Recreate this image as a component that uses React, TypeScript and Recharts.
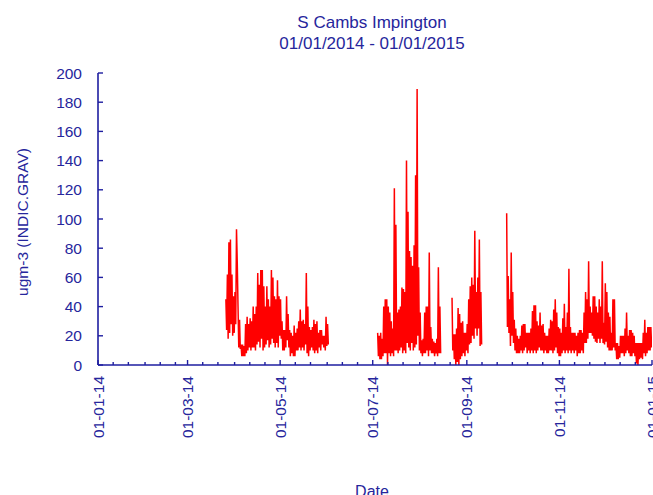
import React from 'react';
import { LineChart, Line, XAxis, YAxis } from 'recharts';

const TITLE = 'S Cambs Impington';
const SUBTITLE = '01/01/2014 - 01/01/2015';
const Y_LABEL = 'ugm-3 (INDIC.GRAV)';
const X_LABEL = 'Date';

const yTicks = [0, 20, 40, 60, 80, 100, 120, 140, 160, 180, 200];
const majorTickDays = [0, 59, 120, 181, 243, 304, 365];
const majorTickLabels = ['01-01-14', '01-03-14', '01-05-14', '01-07-14', '01-09-14', '01-11-14', '01-01-15'];
const monthStartDays = [0, 31, 59, 90, 120, 151, 181, 212, 243, 273, 304, 334, 365];

// daily envelope (max / min); day = days since 01-01-14
const springStart = 84;
const springMax = [45, 62, 84, 86, 62, 47, 50, 93, 40, 31, 14, 14, 13, 28, 33, 28, 32, 30, 40, 35, 40, 63, 55, 65, 65, 54, 40, 54, 45, 40, 65, 60, 47, 45, 58, 47, 45, 30, 24, 24, 47, 35, 24, 22, 20, 27, 22, 25, 30, 38, 30, 31, 28, 63, 40, 26, 24, 26, 31, 28, 30, 22, 24, 24, 20, 20, 33, 28];
const springMin = [24, 18, 22, 28, 20, 22, 28, 70, 12, 11, 6, 6, 6, 8, 10, 12, 10, 12, 12, 10, 14, 16, 12, 18, 10, 12, 14, 17, 12, 14, 18, 15, 12, 15, 12, 20, 18, 10, 10, 12, 17, 12, 6, 8, 6, 6, 10, 10, 12, 10, 12, 10, 14, 8, 6, 10, 12, 10, 8, 10, 8, 12, 10, 14, 12, 10, 13, 14];

const summerStart = 184;
const summerMax = [22, 20, 22, 18, 40, 45, 45, 40, 36, 30, 25, 121, 96, 36, 38, 40, 53, 52, 50, 140, 105, 78, 74, 68, 82, 130, 189, 67, 36, 17, 18, 36, 40, 40, 77, 26, 18, 16, 15, 18, 67, 40];
const summerMin = [6, 4, 4, 6, 8, 8, 0, 8, 6, 8, 6, 10, 10, 8, 10, 12, 8, 10, 8, 15, 12, 10, 15, 10, 12, 14, 20, 10, 8, 6, 8, 8, 10, 6, 10, 8, 8, 6, 8, 6, 8, 8];

const septStart = 233;
const septMax = [46, 21, 21, 25, 39, 35, 29, 30, 22, 22, 28, 45, 54, 60, 55, 92, 50, 60, 86, 50];
const septMin = [10, 4, 0, 2, 0, 4, 6, 8, 6, 10, 8, 14, 15, 20, 18, 25, 20, 25, 13, 14];

const autumnStart = 269;
const autumnMax = [104, 61, 45, 77, 50, 31, 25, 20, 18, 20, 27, 28, 28, 22, 22, 22, 25, 37, 41, 41, 30, 27, 36, 27, 28, 22, 20, 20, 25, 31, 30, 38, 45, 36, 26, 25, 22, 32, 42, 26, 36, 66, 26, 22, 22, 22,
  20, 22, 24, 24, 22, 36, 50, 45, 71, 40, 36, 47, 47, 40, 36, 45, 40, 71, 29, 56, 50, 36, 33, 22, 45, 45, 15, 15, 13, 20, 20, 20, 25, 36, 20, 24, 24, 22, 20, 15, 15, 15, 15, 15, 22, 31, 22, 26, 26, 26];
const autumnMin = [26, 22, 13, 20, 15, 10, 8, 8, 8, 10, 8, 10, 12, 8, 10, 8, 10, 8, 10, 8, 10, 12, 10, 10, 8, 10, 8, 8, 10, 10, 8, 10, 12, 8, 6, 6, 8, 10, 8, 10, 8, 10, 8, 10, 8, 10,
  6, 8, 8, 10, 8, 15, 15, 18, 22, 22, 20, 18, 16, 15, 18, 15, 18, 15, 14, 16, 12, 10, 10, 10, 12, 10, 4, 4, 5, 8, 8, 6, 8, 10, 8, 6, 6, 8, 6, 1, 0, 4, 5, 4, 8, 6, 8, 10, 10, 12];

const TEXT = '#26269c';
const AXIS = '#1e1ea0';
const FONT = '"Liberation Sans", Arial, sans-serif';

type Pt = { t: number; v: number | null };

function buildData(): Pt[] {
  const segs: [number, number[], number[]][] = [
    [springStart, springMax, springMin],
    [summerStart, summerMax, summerMin],
    [septStart, septMax, septMin],
    [autumnStart, autumnMax, autumnMin],
  ];
  const out: Pt[] = [];
  segs.forEach(([start, mx, mn], si) => {
    mx.forEach((m, i) => {
      out.push({ t: start + i + 0.25, v: m });
      out.push({ t: start + i + 0.75, v: mn[i] });
    });
    if (si < segs.length - 1) out.push({ t: start + mx.length + 0.5, v: null });
  });
  return out;
}

const data = buildData();
const allTickDays = monthStartDays.slice(0, 12).flatMap((m) => [m, m + 10, m + 20]).concat([365]);

const XTick = (props: any) => {
  const { x, y, payload } = props;
  const idx = majorTickDays.indexOf(payload.value);
  const major = idx >= 0;
  const ly = y + 11;
  return (
    <g>
      <line x1={x} x2={x} y1={y} y2={y - (major ? 5 : 3)} stroke={AXIS} strokeWidth={1.4} />
      {major && (
        <text x={x} y={ly} transform={`rotate(-90 ${x} ${ly})`} textAnchor="end" dominantBaseline="central"
          fill={TEXT} fontSize={15.5} fontFamily={FONT}>
          {majorTickLabels[idx]}
        </text>
      )}
    </g>
  );
};

const YTick = (props: any) => {
  const { x, y, payload } = props;
  return (
    <g>
      <line x1={x} x2={x + 5} y1={y} y2={y} stroke={AXIS} strokeWidth={1.4} />
      <text x={x - 16} y={y} textAnchor="end" dominantBaseline="central" fill={TEXT} fontSize={15.5} fontFamily={FONT}>
        {payload.value}
      </text>
    </g>
  );
};

export default function App() {
  return (
    <div style={{ position: 'absolute', left: 0, top: 0, width: 653, height: 495, background: '#fff' }}>
      <LineChart width={653} height={495} data={data} margin={{ top: 73, right: 1, bottom: 70, left: 38 }}>
        <XAxis dataKey="t" type="number" domain={[0, 365]} ticks={allTickDays} interval={0}
          height={60} tickSize={0} tickMargin={0} tickLine={false} tick={<XTick />}
          axisLine={{ stroke: AXIS, strokeWidth: 1.6 }} allowDataOverflow />
        <YAxis type="number" domain={[0, 200]} ticks={yTicks} interval={0} width={60}
          tickSize={0} tickMargin={0} tickLine={false} tick={<YTick />}
          axisLine={{ stroke: AXIS, strokeWidth: 1.6 }} />
        <Line type="linear" dataKey="v" stroke="#ff0000" strokeWidth={1.5} dot={false}
          isAnimationActive={false} connectNulls={false} />
      </LineChart>
      <svg width={653} height={495} style={{ position: 'absolute', left: 0, top: 0, pointerEvents: 'none' }}>
        <g fontFamily={FONT} fill={TEXT} textAnchor="middle">
          <text x={372} y={22} dominantBaseline="central" fontSize={17}>{TITLE}</text>
          <text x={372} y={43} dominantBaseline="central" fontSize={17}>{SUBTITLE}</text>
          <text x={22} y={222} dominantBaseline="central" fontSize={15.5} transform="rotate(-90 22 222)">{Y_LABEL}</text>
          <text x={372} y={491} dominantBaseline="central" fontSize={16}>{X_LABEL}</text>
        </g>
      </svg>
    </div>
  );
}
